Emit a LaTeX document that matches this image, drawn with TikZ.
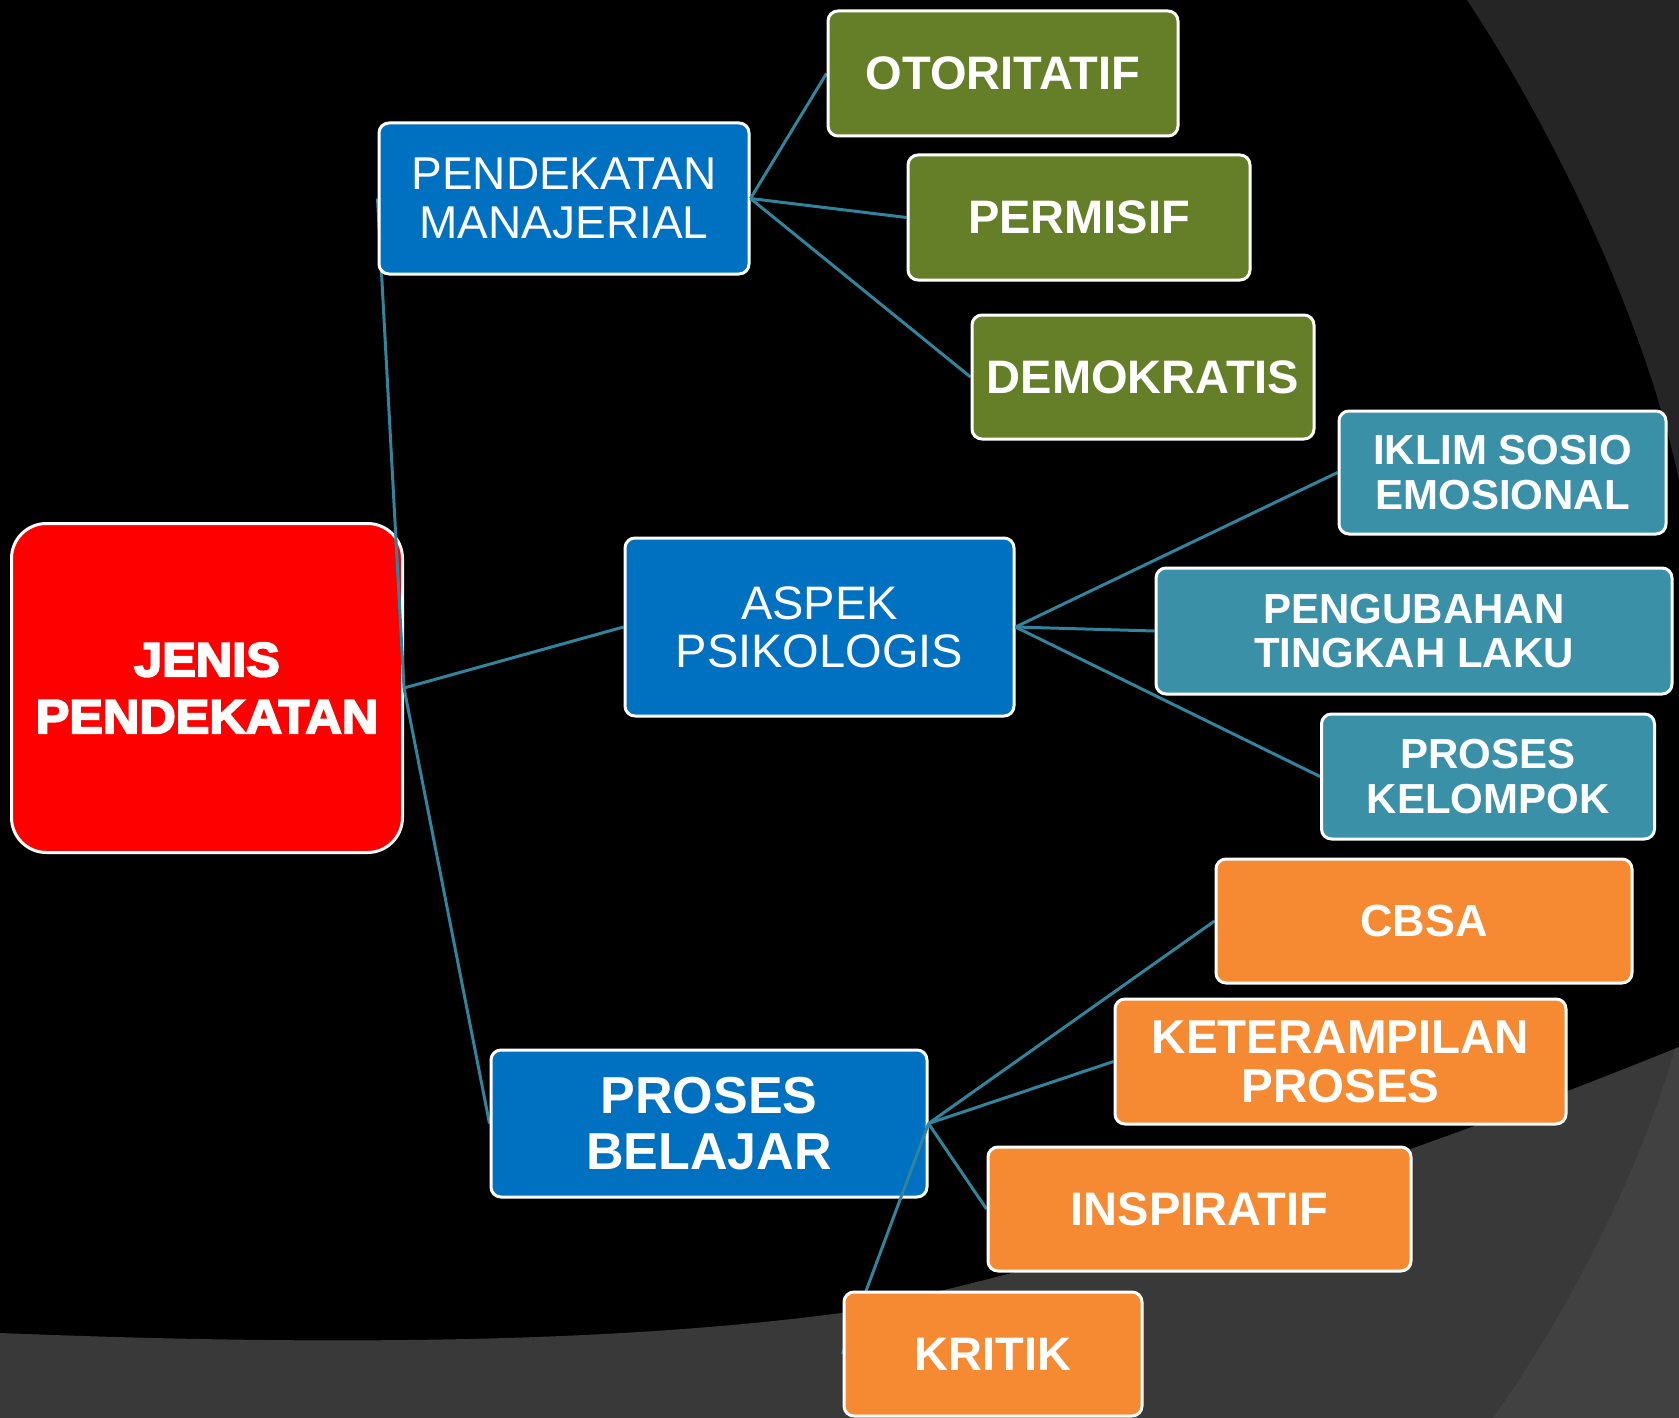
\documentclass[tikz,border=0pt]{standalone}
\usepackage{fontspec}
\setmainfont{Liberation Sans}
\newfontfamily\blackfont{Liberation Sans}[FakeBold=4, FakeStretch=1.05]
\usetikzlibrary{backgrounds}
\pgfdeclarelayer{layconnA}
\pgfdeclarelayer{laymid}
\pgfsetlayers{background,layconnA,laymid,main}
\definecolor{rootred}{HTML}{FF0000}
\definecolor{boxblue}{HTML}{0070C0}
\definecolor{boxgreen}{HTML}{657F29}
\definecolor{boxteal}{HTML}{3A90A7}
\definecolor{boxorange}{HTML}{F68A33}
\definecolor{connc}{HTML}{31849B}
\definecolor{bgtop}{HTML}{252525}
\definecolor{bgbot}{HTML}{393939}
\definecolor{bglight}{HTML}{414141}
\tikzset{
  box/.style={draw=white, line width=3pt, rounded corners=10pt, text=white,
    align=center, inner sep=0pt, rectangle},
  bluebox/.style={box, fill=boxblue},
  greenbox/.style={box, fill=boxgreen, font=\fontsize{47}{49}\selectfont\bfseries},
  tealbox/.style={box, fill=boxteal, font=\fontsize{42}{44.5}\selectfont\bfseries},
  orangebox/.style={box, fill=boxorange, font=\fontsize{47}{49}\selectfont\bfseries},
  conn/.style={draw=connc, line width=3pt},
}
\begin{document}
\begin{tikzpicture}[x=1pt,y=-1pt]
\useasboundingbox (0,0) rectangle (1679,1418);
\begin{pgfonlayer}{background}
  \fill[black] (0,0) rectangle (1679,1418);
  \fill[bgtop] (1467,0) .. controls (1540,110) and (1640,300) .. (1679,480) -- (1679,0) -- cycle;
  \fill[bgbot] (0,1333) .. controls (300,1345) and (600,1345) .. (841,1313)
     .. controls (1100,1260) and (1400,1160) .. (1679,1047) -- (1679,1418) -- (0,1418) -- cycle;
  \fill[bglight] (1675,1049) .. controls (1640,1170) and (1570,1310) .. (1493,1418) -- (1679,1418) -- (1679,1047) -- cycle;
  \node[box, fill=rootred, rounded corners=35pt, minimum width=391pt, minimum height=329pt,
        font=\blackfont\bfseries\fontsize{48}{57}\selectfont] (root) at (207,688) {JENIS\\PENDEKATAN};
\end{pgfonlayer}

\begin{pgfonlayer}{laymid}
\node[bluebox, minimum width=370pt, minimum height=151pt, font=\fontsize{46}{48.3}\selectfont] (pm) at (564,198.5) {PENDEKATAN\\MANAJERIAL};
\node[bluebox, minimum width=389pt, minimum height=178pt, font=\fontsize{47}{48.3}\selectfont] (ap) at (819.5,627) {ASPEK\\PSIKOLOGIS};
\node[bluebox, minimum width=436pt, minimum height=147pt, font=\fontsize{52}{56.5}\selectfont\bfseries] (pb) at (709,1123.5) {PROSES\\BELAJAR};
\end{pgfonlayer}

\node[greenbox, minimum width=350pt, minimum height=125pt] (ot) at (1003,73.5) {OTORITATIF};
\node[greenbox, minimum width=342pt, minimum height=125pt] (pe) at (1079,217.5) {PERMISIF};
\node[greenbox, minimum width=342pt, minimum height=124pt] (de) at (1143,377) {DEMOKRATIS};

\node[tealbox, minimum width=327pt, minimum height=123pt] (ik) at (1502.5,472.5) {IKLIM SOSIO\\EMOSIONAL};
\node[tealbox, minimum width=516pt, minimum height=126pt] (pg) at (1414,631) {PENGUBAHAN\\TINGKAH LAKU};
\node[tealbox, minimum width=333pt, minimum height=125pt] (pk) at (1488,776.5) {PROSES\\KELOMPOK};

\node[orangebox, minimum width=416pt, minimum height=124pt, font=\fontsize{45}{49}\selectfont\bfseries] (cb) at (1424,921) {CBSA};
\node[orangebox, minimum width=451pt, minimum height=125pt, font=\fontsize{47.5}{49}\selectfont\bfseries] (kp) at (1340.5,1061.5) {KETERAMPILAN\\PROSES};
\node[orangebox, minimum width=423pt, minimum height=124pt] (in) at (1199.5,1209) {INSPIRATIF};
\node[orangebox, minimum width=298pt, minimum height=124pt] (kr) at (993,1354) {KRITIK};

\begin{pgfonlayer}{layconnA}
  \draw[conn] (root.east) -- (pm.west);
  \draw[conn] (root.east) -- (ap.west);
  \draw[conn] (root.east) -- (pb.west);
\end{pgfonlayer}
\begin{pgfonlayer}{laymid}
  \draw[conn] (pm.east) -- (ot.west);
  \draw[conn] (pm.east) -- (pe.west);
  \draw[conn] (pm.east) -- (de.west);
  \draw[conn] (ap.east) -- (ik.west);
  \draw[conn] (ap.east) -- (pg.west);
  \draw[conn] (ap.east) -- (pk.west);
  \draw[conn] (pb.east) -- (cb.west);
  \draw[conn] (pb.east) -- (kp.west);
  \draw[conn] (pb.east) -- (in.west);
  \draw[conn] (pb.east) -- (kr.west);
\end{pgfonlayer}
\end{tikzpicture}
\end{document}
